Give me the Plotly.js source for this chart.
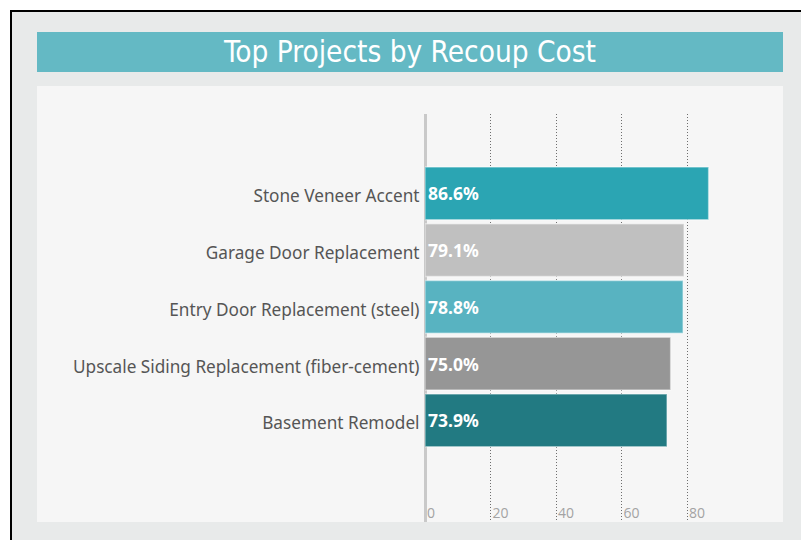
<!DOCTYPE html>
<html><head><meta charset="utf-8">
<script src="https://cdn.plot.ly/plotly-3.0.1.min.js"></script>
<style>html,body{margin:0;padding:0;background:#fff}#c{width:801px;height:540px}</style>
</head><body><div id="c"></div>
<script>
const categories = ["Stone Veneer Accent","Garage Door Replacement","Entry Door Replacement (steel)","Upscale Siding Replacement (fiber-cement)","Basement Remodel"];
const values = [86.6, 79.1, 78.8, 75.0, 73.9];
const valueLabels = ["86.6%","79.1%","78.8%","75.0%","73.9%"];
const barColors = ["#2ba5b3","#c0c0c0","#58b3c1","#969696","#227a82"];
const tickValues = [0,20,40,60,80];
const tickLabels = ["0","20","40","60","80"];
const chartTitle = "Top Projects by Recoup Cost";

const W=801,H=540;
const px=x=>x/W, py=y=>1-y/H;

const trace = {
  type:"bar", orientation:"h",
  x: values, y: categories,
  text: valueLabels, textposition:"inside", insidetextanchor:"start",
  textfont:{family:"'Noto Sans',sans-serif", size:17.5, color:"#ffffff", weight:"bold"},
  insidetextfont:{family:"'Noto Sans',sans-serif", size:17.5, color:"#ffffff", weight:"bold"},
  constraintext:"none",
  marker:{color:barColors, line:{color:"rgba(255,255,255,0.45)", width:1.5}},
  hoverinfo:"none", cliponaxis:false
};

const layout = {
  width:W, height:H,
  margin:{l:0,r:0,t:0,b:0},
  paper_bgcolor:"#ffffff", plot_bgcolor:"rgba(0,0,0,0)",
  showlegend:false,
  bargap:0.07,
  title:{text:chartTitle, x:px(410), xanchor:"center", y:py(52), yanchor:"middle", yref:"paper", xref:"paper",
         font:{family:"'DejaVu Sans Condensed','Liberation Sans Narrow','Roboto',sans-serif", size:29.5, color:"#ffffff"}},
  xaxis:{domain:[px(425),px(783)], range:[0,(783-425)/3.275],
    tickvals:tickValues, ticktext:tickLabels, ticklabelposition:"inside right",
    ticklabelstandoff:-5, ticklabelshift:2,
    tickfont:{family:"'Open Sans',sans-serif", size:14, color:"#a3a3a3"},
    showgrid:true, gridcolor:"#6e6e6e", griddash:"1px,2px", gridwidth:1,
    zeroline:true, zerolinecolor:"#c9c9c9", zerolinewidth:3,
    showline:false, ticks:"", fixedrange:true},
  yaxis:{domain:[py(522),py(114)], type:"category", categoryorder:"array", categoryarray:categories,
    range:[5.79,-1.40], ticks:"", showgrid:false, zeroline:false, showline:false,
    ticksuffix:" ", ticklabelshift:-3,
    tickfont:{family:"'Noto Sans',sans-serif", size:17.2, color:"#555555"}, fixedrange:true},
  shapes:[
    {type:"rect", xref:"paper", yref:"paper", x0:px(11), x1:1.2, y0:-0.2, y1:py(11),
     fillcolor:"#e8eaea", line:{color:"#000000", width:2}, layer:"below"},
    {type:"rect", xref:"paper", yref:"paper", x0:px(37), x1:px(783), y0:py(522), y1:py(86),
     fillcolor:"#f6f6f6", line:{width:0}, layer:"below"},
    {type:"rect", xref:"paper", yref:"paper", x0:px(37), x1:px(783), y0:py(72), y1:py(32),
     fillcolor:"#64b9c4", line:{width:0}, layer:"below"}
  ]
};

Plotly.newPlot("c",[trace],layout,{displayModeBar:false, staticPlot:true});
</script></body></html>
